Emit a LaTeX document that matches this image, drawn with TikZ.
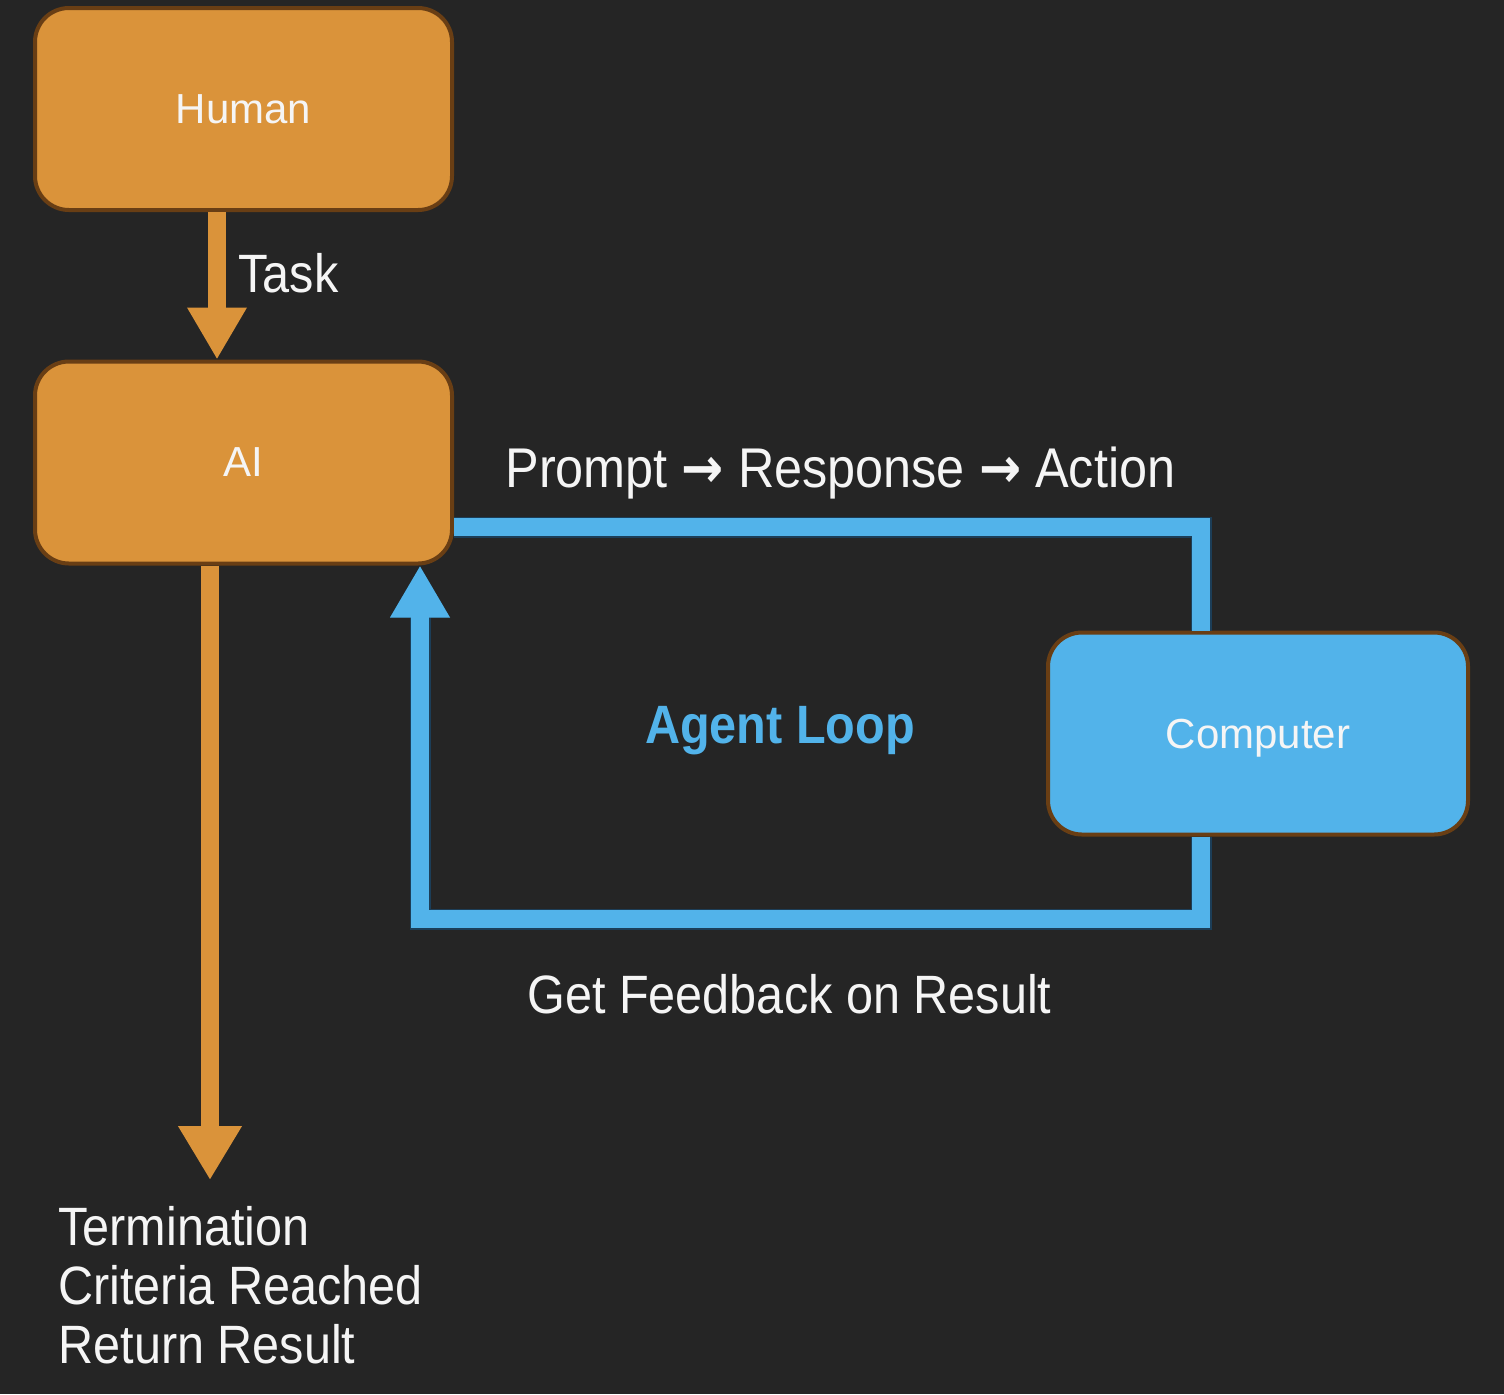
\documentclass[tikz,border=0pt]{standalone}
\usepackage{fontspec}
\setmainfont{Liberation Sans}
\newfontfamily\condfont[FakeStretch=0.9]{Liberation Sans}
\newfontfamily\arrowfont[FakeStretch=0.9]{DejaVu Sans}
\usetikzlibrary{arrows.meta,calc}
\definecolor{bg}{RGB}{37,37,37}
\definecolor{orangefill}{RGB}{218,147,58}
\definecolor{brownedge}{RGB}{105,62,20}
\definecolor{bluefill}{RGB}{82,179,234}
\definecolor{blueedge}{RGB}{28,62,88}
\definecolor{txt}{RGB}{245,245,245}
\begin{document}
\begin{tikzpicture}[x=0.5pt,y=-0.5pt,
  boxnode/.style={draw=brownedge, line width=2pt, rounded corners=17pt,
    minimum width=208.5pt, minimum height=101pt, inner sep=0pt, text=txt,
    text depth=0pt, font=\fontsize{21}{25}\selectfont},
  orangebox/.style={boxnode, fill=orangefill},
  bluebox/.style={boxnode, fill=bluefill, minimum width=210pt},
  lbl/.style={text=txt, inner sep=0pt, font=\condfont\fontsize{27}{29.5}\selectfont},
  orangearrow/.style={draw=orangefill, line width=9pt, -{Triangle[width=28pt,length=26pt]}},
  bluelink/.style={draw=bluefill, line width=9pt,
    preaction={draw=blueedge, line width=10.5pt}},
  bluearrow/.style={bluelink, -{Triangle[width=28pt,length=26pt]}}
]
\fill[bg] (0,0) rectangle (1504,1394);
\useasboundingbox (0,0) rectangle (1504,1394);

\node[orangebox] (human) at (243.5,109) {Human};
\node[orangebox] (ai) at (243.5,462.5) {AI};
\node[bluebox] (computer) at (1258,733.5) {Computer};

\coordinate (tx) at (217,0);
\coordinate (dx) at (210,0);
\coordinate (ty) at (0,527);
\coordinate (cx) at (1201,0);
\coordinate (by) at (420,919);
\coordinate (termtip) at (210,1180);

\draw[orangearrow] (human.south -| tx) -- (ai.north -| tx);
\draw[orangearrow, -{Triangle[width=30pt,length=27pt]}] (ai.south -| dx) -- (termtip);

\draw[bluelink] (ai.east |- ty) -| (computer.north -| cx);
\draw[bluearrow] (computer.south -| cx) |- (by) -- (ai.south -| by);

\node[lbl, anchor=base west] (task) at (238,292) {Task};
\node[lbl, anchor=base west, font=\condfont\fontsize{28}{30}\selectfont] (pra) at (505,487)
  {Prompt {\arrowfont\bfseries →} Response {\arrowfont\bfseries →} Action};
\node[lbl, anchor=base, text=bluefill, font=\condfont\bfseries\fontsize{27}{30}\selectfont] (loop) at (780,743) {Agent Loop};
\node[lbl, anchor=base west] (feedback) at (527,1013) {Get Feedback on Result};
\node[lbl, anchor=north west, align=left] (term) at (58,1206)
  {Termination\\Criteria Reached\\Return Result};
\end{tikzpicture}
\end{document}
